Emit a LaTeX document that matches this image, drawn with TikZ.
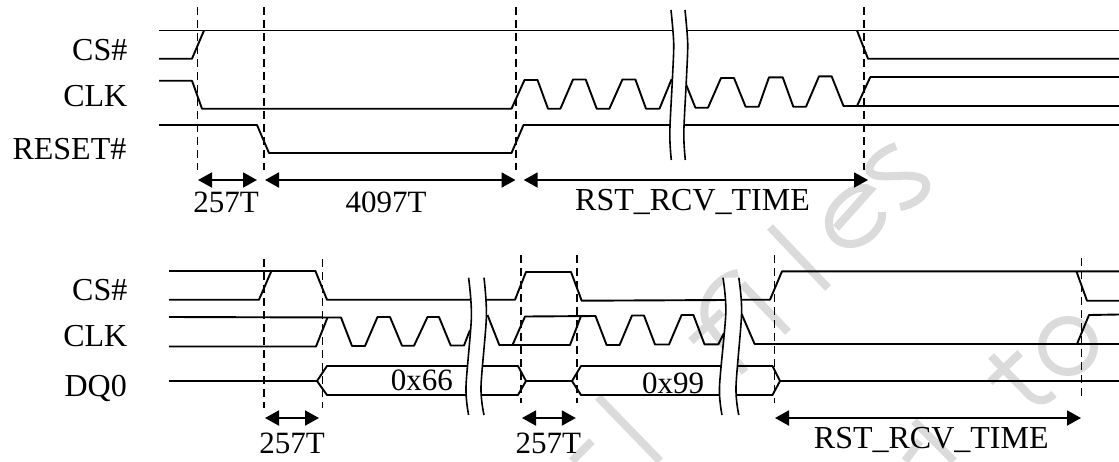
\documentclass[tikz,border=0pt]{standalone}
\usepackage{fontspec}
\setmainfont{Liberation Serif}
\usetikzlibrary{arrows.meta}
\tikzset{
  sig/.style={line width=1.9pt,black,line join=round},
  brkline/.style={line width=1.6pt,black},
  guide/.style={line width=1.7pt,black,dash pattern=on 8pt off 5pt},
  dim/.style={line width=1.9pt,black,{Triangle[length=14pt,width=15pt]}-{Triangle[length=14pt,width=15pt]}},
  lab/.style={inner sep=0pt,font=\fontsize{31}{36}\selectfont,anchor=base},
  longlab/.style={inner sep=0pt,font=\fontsize{32}{36}\selectfont,anchor=base},
  signame/.style={inner sep=0pt,font=\fontsize{32}{36}\selectfont,anchor=base east},
  wm/.style={line width=8pt,color=black!14,line cap=butt}
}
\begin{document}
\begin{tikzpicture}[x=1pt,y=-1pt]
\useasboundingbox (0,0) rectangle (1119,461);
\fill[white] (0,0) rectangle (1119,461);
% watermark fragments
\draw[wm] (896,146) .. controls (878,152) and (866,166) .. (870,172) .. controls (878,182) and (912,170) .. (924,180) .. controls (932,190) and (918,204) .. (900,207);
\draw[wm] (836,228) -- (870,190) .. controls (860,182) and (840,196) .. (832,210) .. controls (824,226) and (832,244) .. (850,244) .. controls (868,244) and (884,226) .. (882,212);
\draw[wm] (770,227) -- (828,288);
\draw[wm] (738,273) .. controls (718,276) and (698,300) .. (706,322) -- (745,372);
\draw[wm] (691,341) -- (722,312);
\draw[wm] (742,284) -- (788,332);
\draw[wm] (598,397) -- (660,461);
\draw[wm] (572,461) -- (592,441);
\draw[wm] (914,421) -- (954,461);
\draw[wm] (905,461) -- (920,441);
\draw[wm] (990,382) -- (1020,353);
\draw[wm] (991,356) -- (1030,396) .. controls (1038,402) and (1046,402) .. (1054,394);
\draw[wm] (1068,346) circle[radius=26];
% guides
\coordinate (g1a) at (197.5,7);    \coordinate (g1b) at (197.5,170);
\coordinate (g2a) at (264,7);      \coordinate (g2b) at (264,170);
\coordinate (g3a) at (516,7);      \coordinate (g3b) at (516,170);
\coordinate (g4a) at (864,7);      \coordinate (g4b) at (864,170);
\coordinate (g5a) at (264,259);    \coordinate (g5b) at (264,408);
\coordinate (g6a) at (322.5,259);  \coordinate (g6b) at (322.5,408);
\coordinate (g7a) at (521,255);    \coordinate (g7b) at (521,403);
\coordinate (g8a) at (577,255);    \coordinate (g8b) at (577,403);
\coordinate (g9a) at (774.5,255);  \coordinate (g9b) at (774.5,403);
\coordinate (g10a) at (1081.5,258);\coordinate (g10b) at (1081.5,400);
\foreach \g in {1,...,10} \draw[guide] (g\g a) -- (g\g b);
% top diagram
\draw[sig] (159,30.5) -- (1119,30.5);
\draw[sig] (159,58.7) -- (192,58.7) -- (204,30.5);
\draw[sig] (857,30.5) -- (868,58.7) -- (1119,58.7);
\draw[sig] (159,80.7) -- (192,80.7) -- (202,108.7) -- (511.5,108.7) -- (524.5,80) -- (537.5,80) -- (548,108.7)
  -- (560.4,108.7) -- (573,79.5) -- (585.7,79.5) -- (596.7,108.7) -- (609.4,108.7) -- (622.4,79.5) -- (635.4,79.5)
  -- (646,108.7) -- (659.5,108.7) -- (671.7,79);
\draw[sig] (685.5,83) -- (695.4,107.7) -- (708,107.7) -- (721,78) -- (734,78) -- (745.6,106.7) -- (758.6,106.7)
  -- (769,77.3) -- (782.7,77.3) -- (793.3,106.7) -- (806,106.7) -- (819,76.3) -- (831.6,76.3) -- (843.5,106) -- (1119,106);
\draw[sig] (857,106) -- (870.3,77) -- (1119,77);
\draw[sig] (159,125) -- (257,125) -- (269,153) -- (511.5,153) -- (523.5,125) -- (1119,125);
% top break
\fill[white] plot[smooth] coordinates {(671,10) (673.7,43) (672.5,77) (669.8,133) (671.3,160)}
  -- plot[smooth] coordinates {(685.3,160) (683.8,133) (686.5,77) (687.7,43) (685,10)} -- cycle;
\draw[brkline] plot[smooth] coordinates {(671,10) (673.7,43) (672.5,77) (669.8,133) (671.3,160)};
\draw[brkline] plot[smooth] coordinates {(685,10) (687.7,43) (686.5,77) (683.8,133) (685.3,160)};
% bottom diagram
\draw[sig] (169,271) -- (315.4,271) -- (327,299.7) -- (515,299.7) -- (526,272) -- (571,272) -- (581.7,300.7) -- (725,300) -- (741,299.7) -- (770,299.7) -- (782,271.3) -- (1119,271.3);
\draw[sig] (169,299.7) -- (259,299.7) -- (271.4,271);
\draw[sig] (1076.4,271.3) -- (1087,300.7) -- (1119,300.7);
\draw[sig] (169,317) -- (341,317.5) -- (352,346) -- (365,346) -- (377.5,317) -- (390,317) -- (402,345.7) -- (414,345.7)
  -- (427.5,317) -- (439,317) -- (450.7,345.5) -- (464,345.5) -- (470,330);
\draw[sig] (169,346.5) -- (316,346.5) -- (327.5,317.5);
\draw[sig] (487.5,315) -- (499.3,345) -- (570,345) -- (581,316);
\draw[sig] (512.5,345) -- (525,316.5) -- (595.5,316) -- (606.6,345) -- (619.6,345) -- (632,315.5) -- (644,315.5) -- (655,344.5)
  -- (669,344.5) -- (681.6,315) -- (693.4,315) -- (704.5,344.3) -- (718.3,344.3) -- (724,333);
\draw[sig] (741.6,314) -- (754.6,344) -- (1119,344);
\draw[sig] (1077,344) -- (1089,315) -- (1119,314.5);
\draw[sig] (169,381) -- (317,381) -- (327,366) -- (518,366) -- (526,381) -- (572,381) -- (581,366) -- (772.5,366) -- (780,381) -- (1119,381);
\draw[sig] (317,381) -- (327,395) -- (518,395) -- (526,381);
\draw[sig] (572,381) -- (581,395) -- (772.5,395) -- (780,381);
% bottom breaks
\fill[white] plot[smooth] coordinates {(468.6,277.7) (471.4,316.7) (466,386.7) (468.6,415)}
  -- plot[smooth] coordinates {(484,415) (481,386.7) (486.4,316.7) (484,277.7)} -- cycle;
\draw[brkline] plot[smooth] coordinates {(468.6,277.7) (471.4,316.7) (466,386.7) (468.6,415)};
\draw[brkline] plot[smooth] coordinates {(484,277.7) (486.4,316.7) (481,386.7) (484,415)};
\fill[white] plot[smooth] coordinates {(723,277.7) (725.8,313) (719.5,386.7) (722,415)}
  -- plot[smooth] coordinates {(738.8,415) (736,386.7) (741.6,313) (738.8,277.7)} -- cycle;
\draw[brkline] plot[smooth] coordinates {(723,277.7) (725.8,313) (719.5,386.7) (722,415)};
\draw[brkline] plot[smooth] coordinates {(738.8,277.7) (741.6,313) (736,386.7) (738.8,415)};
% dimension arrows
\coordinate (d1a) at (198,180);  \coordinate (d1b) at (257,180);
\coordinate (d2a) at (265,180);  \coordinate (d2b) at (515.5,180);
\coordinate (d3a) at (523.7,180);\coordinate (d3b) at (868,180);
\coordinate (d4a) at (265,418);  \coordinate (d4b) at (319,418);
\coordinate (d5a) at (522,418);  \coordinate (d5b) at (575.8,418);
\coordinate (d6a) at (775,418);  \coordinate (d6b) at (1081,418);
\foreach \d in {1,...,6} \draw[dim] (d\d a) -- (d\d b);
% signal names
\node[signame] (cs1) at (127.5,60) {CS\#};
\node[signame] (clk1) at (127.5,106.7) {CLK};
\node[signame] (rst1) at (126.5,159) {RESET\#};
\node[signame] (cs2) at (127.5,300) {CS\#};
\node[signame] (clk2) at (127.5,346.7) {CLK};
\node[signame] (dq0) at (127,396.7) {DQ0};
% labels
\node[lab] (t1) at (226,212) {257T};
\node[lab] (t2) at (386,212) {4097T};
\node[longlab] (t3) at (692.5,210) {RST\_RCV\_TIME};
\node[lab] (t4) at (292,453) {257T};
\node[lab] (t5) at (548.4,453) {257T};
\node[longlab] (t6) at (931.3,448) {RST\_RCV\_TIME};
\node[lab] (h1) at (421.8,390) {0x66};
\node[lab] (h2) at (673,393) {0x99};
\end{tikzpicture}
\end{document}
